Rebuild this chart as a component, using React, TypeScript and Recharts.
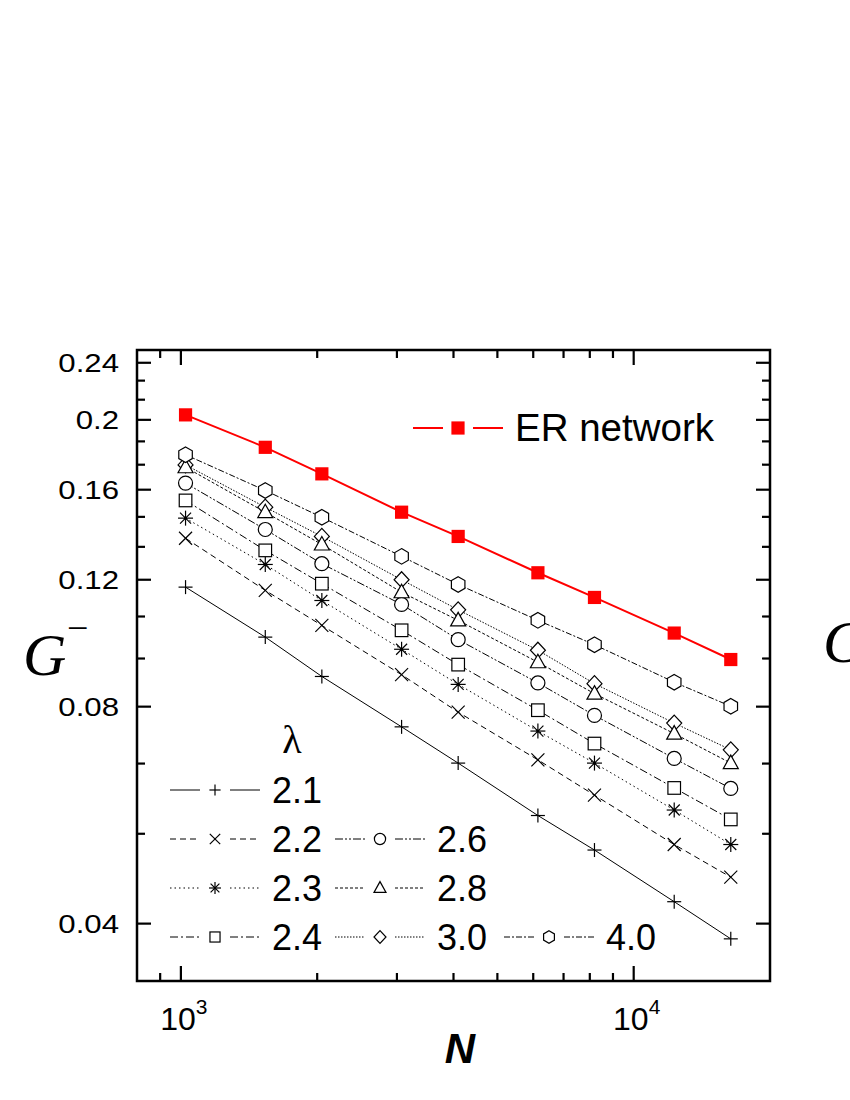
import React from "react"
import { LineChart, Line, XAxis, YAxis, ReferenceArea, Legend } from "recharts"

// system sizes N (x values)
const sizes = [1024, 1536, 2048, 3072, 4096, 6144, 8192, 12288, 16384]

// G- values
const erNetwork = [0.2032, 0.1832, 0.1683, 0.1489, 0.1378, 0.1227, 0.1134, 0.1012, 0.093]
const lambda21 = [0.1172, 0.0999, 0.0881, 0.075, 0.0668, 0.0565, 0.0506, 0.0429, 0.0381]
const lambda22 = [0.137, 0.116, 0.1037, 0.0886, 0.0786, 0.0675, 0.0603, 0.0515, 0.0464]
const lambda23 = [0.1461, 0.126, 0.1123, 0.0961, 0.0859, 0.074, 0.0668, 0.0575, 0.0515]
const lambda24 = [0.1546, 0.1318, 0.1185, 0.1021, 0.0915, 0.0791, 0.0711, 0.0617, 0.0558]
const lambda26 = [0.1634, 0.1409, 0.1263, 0.1109, 0.0991, 0.0863, 0.0778, 0.0678, 0.0616]
const lambda28 = [0.1719, 0.1489, 0.1343, 0.1153, 0.1054, 0.0922, 0.0834, 0.0734, 0.0668]
const lambda30 = [0.1732, 0.1513, 0.1378, 0.12, 0.109, 0.0958, 0.0861, 0.0759, 0.0697]
const lambda40 = [0.1789, 0.1596, 0.1465, 0.1293, 0.1182, 0.1054, 0.0975, 0.0865, 0.0801]

// axis ticks
const xMajorTicks = [1000, 10000]
const xMinorTicks = [900, 2000, 3000, 4000, 5000, 6000, 7000, 8000, 9000]
const yMajorTicks = [0.04, 0.08, 0.12, 0.16, 0.2, 0.24]
const yMinorTicks = [0.0533, 0.0667, 0.0933, 0.1067, 0.1333, 0.1467, 0.1733, 0.1867, 0.2133, 0.2267]

const X_DOMAIN = [800, 20000]
const Y_DOMAIN = [0.0333, 0.25]

// plot box in page pixels (chart sits at 0,0)
const PLOT_LEFT = 137
const PLOT_RIGHT = 770
const PLOT_TOP = 350
const PLOT_BOTTOM = 981

const SANS = "'Liberation Sans', Arial, Helvetica, sans-serif"
const SERIF = "'Liberation Serif', 'Times New Roman', serif"

type Shape = "plus" | "cross" | "star" | "square" | "circle" | "triangle" | "diamond" | "hexagon" | "redSquare"

interface SeriesDef {
  key: string
  label: string
  values: number[]
  shape: Shape
  dash?: string
  color: string
  width: number
}

const series: SeriesDef[] = [
  { key: "l21", label: "2.1", values: lambda21, shape: "plus", color: "#000", width: 1 },
  { key: "l22", label: "2.2", values: lambda22, shape: "cross", dash: "6 4", color: "#000", width: 1 },
  { key: "l23", label: "2.3", values: lambda23, shape: "star", dash: "1.5 3", color: "#000", width: 1 },
  { key: "l24", label: "2.4", values: lambda24, shape: "square", dash: "8 3 2 3", color: "#000", width: 1 },
  { key: "l26", label: "2.6", values: lambda26, shape: "circle", dash: "8 2 2 2 2 2", color: "#000", width: 1 },
  { key: "l30", label: "3.0", values: lambda30, shape: "diamond", dash: "1.5 1.5", color: "#000", width: 1 },
  { key: "l28", label: "2.8", values: lambda28, shape: "triangle", dash: "3 2", color: "#000", width: 1 },
  { key: "l40", label: "4.0", values: lambda40, shape: "hexagon", dash: "6 2 2 2", color: "#000", width: 1 },
  { key: "er", label: "ER network", values: erNetwork, shape: "redSquare", color: "#ff0000", width: 2 },
]

const data = sizes.map((n, i) => {
  const row: Record<string, number> = { N: n }
  series.forEach((s) => {
    row[s.key] = s.values[i]
  })
  return row
})

function Marker({ shape, cx, cy, s = 1 }: { shape: Shape; cx: number; cy: number; s?: number }) {
  const line = { stroke: "#000", strokeWidth: 1.2 }
  const hollow = { stroke: "#000", strokeWidth: 1.2, fill: "#fff" }
  if (shape === "plus") {
    const d = 7 * s
    return (
      <g {...line}>
        <line x1={cx - d} x2={cx + d} y1={cy} y2={cy} />
        <line x1={cx} x2={cx} y1={cy - d} y2={cy + d} />
      </g>
    )
  }
  if (shape === "cross") {
    const d = 6.5 * s
    return (
      <g {...line}>
        <line x1={cx - d} x2={cx + d} y1={cy - d} y2={cy + d} />
        <line x1={cx - d} x2={cx + d} y1={cy + d} y2={cy - d} />
      </g>
    )
  }
  if (shape === "star") {
    const d = 7.5 * s
    const e = 5.5 * s
    return (
      <g {...line}>
        <line x1={cx} x2={cx} y1={cy - d} y2={cy + d} />
        <line x1={cx - d} x2={cx + d} y1={cy} y2={cy} />
        <line x1={cx - e} x2={cx + e} y1={cy - e} y2={cy + e} />
        <line x1={cx - e} x2={cx + e} y1={cy + e} y2={cy - e} />
        <circle cx={cx} cy={cy} r={1.6 * s} fill="#000" stroke="none" />
      </g>
    )
  }
  if (shape === "square") {
    const h = 6.3 * s
    return <rect x={cx - h} y={cy - h} width={2 * h} height={2 * h} {...hollow} />
  }
  if (shape === "circle") {
    return <circle cx={cx} cy={cy} r={7 * s} {...hollow} />
  }
  if (shape === "triangle") {
    const pts = [
      [cx, cy - 8 * s],
      [cx + 7.5 * s, cy + 5.5 * s],
      [cx - 7.5 * s, cy + 5.5 * s],
    ]
    return <polygon points={pts.map((p) => p.join(",")).join(" ")} {...hollow} />
  }
  if (shape === "diamond") {
    const pts = [
      [cx, cy - 8 * s],
      [cx + 7.5 * s, cy],
      [cx, cy + 8 * s],
      [cx - 7.5 * s, cy],
    ]
    return <polygon points={pts.map((p) => p.join(",")).join(" ")} {...hollow} />
  }
  if (shape === "hexagon") {
    const r = 7.8 * s
    const pts = [-90, -30, 30, 90, 150, 210].map((a) => {
      const t = (a * Math.PI) / 180
      return [cx + r * Math.cos(t), cy + r * Math.sin(t)]
    })
    return <polygon points={pts.map((p) => p.join(",")).join(" ")} {...hollow} />
  }
  // filled red square for the ER network
  const h = 6.6 * s
  return <rect x={cx - h} y={cy - h} width={2 * h} height={2 * h} fill="#ff0000" stroke="none" />
}

const XTick = (props: any) => {
  const { x, payload } = props
  const major = xMajorTicks.includes(payload.value)
  const len = major ? 15 : 8
  return (
    <g>
      <line x1={x} x2={x} y1={PLOT_BOTTOM} y2={PLOT_BOTTOM - len} stroke="#000" strokeWidth={2.2} />
      <line x1={x} x2={x} y1={PLOT_TOP} y2={PLOT_TOP + len} stroke="#000" strokeWidth={2.2} />
      {major && (
        <text x={x + 3} y={1030} textAnchor="middle" fontFamily={SANS} fontSize={32} fill="#000">
          10
          <tspan dy={-16} fontSize={21}>
            {Math.round(Math.log10(payload.value))}
          </tspan>
        </text>
      )}
    </g>
  )
}

const YTick = (props: any) => {
  const { y, payload } = props
  const major = yMajorTicks.includes(payload.value)
  const len = major ? 14 : 8
  return (
    <g>
      <line x1={PLOT_LEFT} x2={PLOT_LEFT + len} y1={y} y2={y} stroke="#000" strokeWidth={2.2} />
      <line x1={PLOT_RIGHT} x2={PLOT_RIGHT - len} y1={y} y2={y} stroke="#000" strokeWidth={2.2} />
      {major && (
        <text
          transform={`translate(119 ${y + 9.3}) scale(1.2 1)`}
          textAnchor="end"
          fontFamily={SANS}
          fontSize={26}
          fill="#000"
        >
          {String(payload.value)}
        </text>
      )}
    </g>
  )
}

// legend positions: [series key, column start x, row centre y]
const lambdaLegend: [string, number, number][] = [
  ["l21", 170, 790],
  ["l22", 170, 839],
  ["l23", 170, 888],
  ["l24", 170, 937],
  ["l26", 335, 839],
  ["l28", 335, 888],
  ["l30", 335, 937],
  ["l40", 504, 937],
]

function LegendItem({ def, x, y, fontSize }: { def: SeriesDef; x: number; y: number; fontSize: number }) {
  const seg = { stroke: def.color, strokeWidth: def.width, strokeDasharray: def.dash }
  return (
    <g>
      <line x1={x} x2={x + 30} y1={y} y2={y} {...seg} />
      <Marker shape={def.shape} cx={x + 45} cy={y} s={def.shape === "redSquare" ? 1 : 0.8} />
      <line x1={x + 60} x2={x + 90} y1={y} y2={y} {...seg} />
      <text x={x + 102} y={y + 13} fontFamily={SANS} fontSize={fontSize} fill="#000">
        {def.label}
      </text>
    </g>
  )
}

const renderLegend = () => {
  const er = series.find((s) => s.key === "er")!
  return (
    <svg width={850} height={1100} style={{ display: "block" }}>
      <LegendItem def={er} x={413} y={428} fontSize={38.5} />
      <text x={292} y={753} textAnchor="middle" fontFamily={SERIF} fontSize={40} fill="#000">
        λ
      </text>
      {lambdaLegend.map(([key, x, y]) => (
        <LegendItem key={key} def={series.find((s) => s.key === key)!} x={x} y={y} fontSize={36} />
      ))}
      {/* axis titles */}
      <text x={23} y={675} fontFamily={SERIF} fontStyle="italic" fontSize={60} fill="#000">
        G
      </text>
      <text x={67} y={641} fontFamily={SERIF} fontSize={38} fill="#000">
        −
      </text>
      <text x={460} y={1063} textAnchor="middle" fontFamily={SANS} fontStyle="italic" fontWeight="bold" fontSize={42} fill="#000">
        N
      </text>
      {/* edge of the neighbouring panel's label */}
      <text x={823} y={662} fontFamily={SERIF} fontStyle="italic" fontSize={60} fill="#000">
        G
      </text>
    </svg>
  )
}

export default function App() {
  return (
    <div style={{ position: "absolute", left: 0, top: 0, width: 850, height: 1100, background: "#fff" }}>
      <LineChart
        width={850}
        height={1100}
        data={data}
        margin={{ top: PLOT_TOP, right: 850 - PLOT_RIGHT, bottom: 1100 - PLOT_BOTTOM - 80, left: 0 }}
      >
        <XAxis
          dataKey="N"
          type="number"
          scale="log"
          domain={X_DOMAIN}
          allowDataOverflow
          ticks={[...xMinorTicks, ...xMajorTicks]}
          interval={0}
          tick={XTick}
          tickLine={false}
          axisLine={false}
          height={80}
        />
        <YAxis
          type="number"
          scale="log"
          domain={Y_DOMAIN}
          allowDataOverflow
          ticks={[...yMinorTicks, ...yMajorTicks]}
          interval={0}
          tick={YTick}
          tickLine={false}
          axisLine={false}
          width={PLOT_LEFT}
        />
        <ReferenceArea
          x1={X_DOMAIN[0]}
          x2={X_DOMAIN[1]}
          y1={Y_DOMAIN[0]}
          y2={Y_DOMAIN[1]}
          fill="none"
          fillOpacity={0}
          stroke="#000"
          strokeWidth={2.5}
          ifOverflow="visible"
        />
        {series.map((s) => (
          <Line
            key={s.key}
            type="linear"
            dataKey={s.key}
            stroke={s.color}
            strokeWidth={s.width}
            strokeDasharray={s.dash}
            isAnimationActive={false}
            activeDot={false}
            dot={(p: any) => <Marker key={`${s.key}-${p.index}`} shape={s.shape} cx={p.cx} cy={p.cy} />}
          />
        ))}
        <Legend
          layout="horizontal"
          verticalAlign="middle"
          align="center"
          wrapperStyle={{ left: 0, top: 0, width: 850, height: 1100, pointerEvents: "none" }}
          content={renderLegend}
        />
      </LineChart>
    </div>
  )
}
